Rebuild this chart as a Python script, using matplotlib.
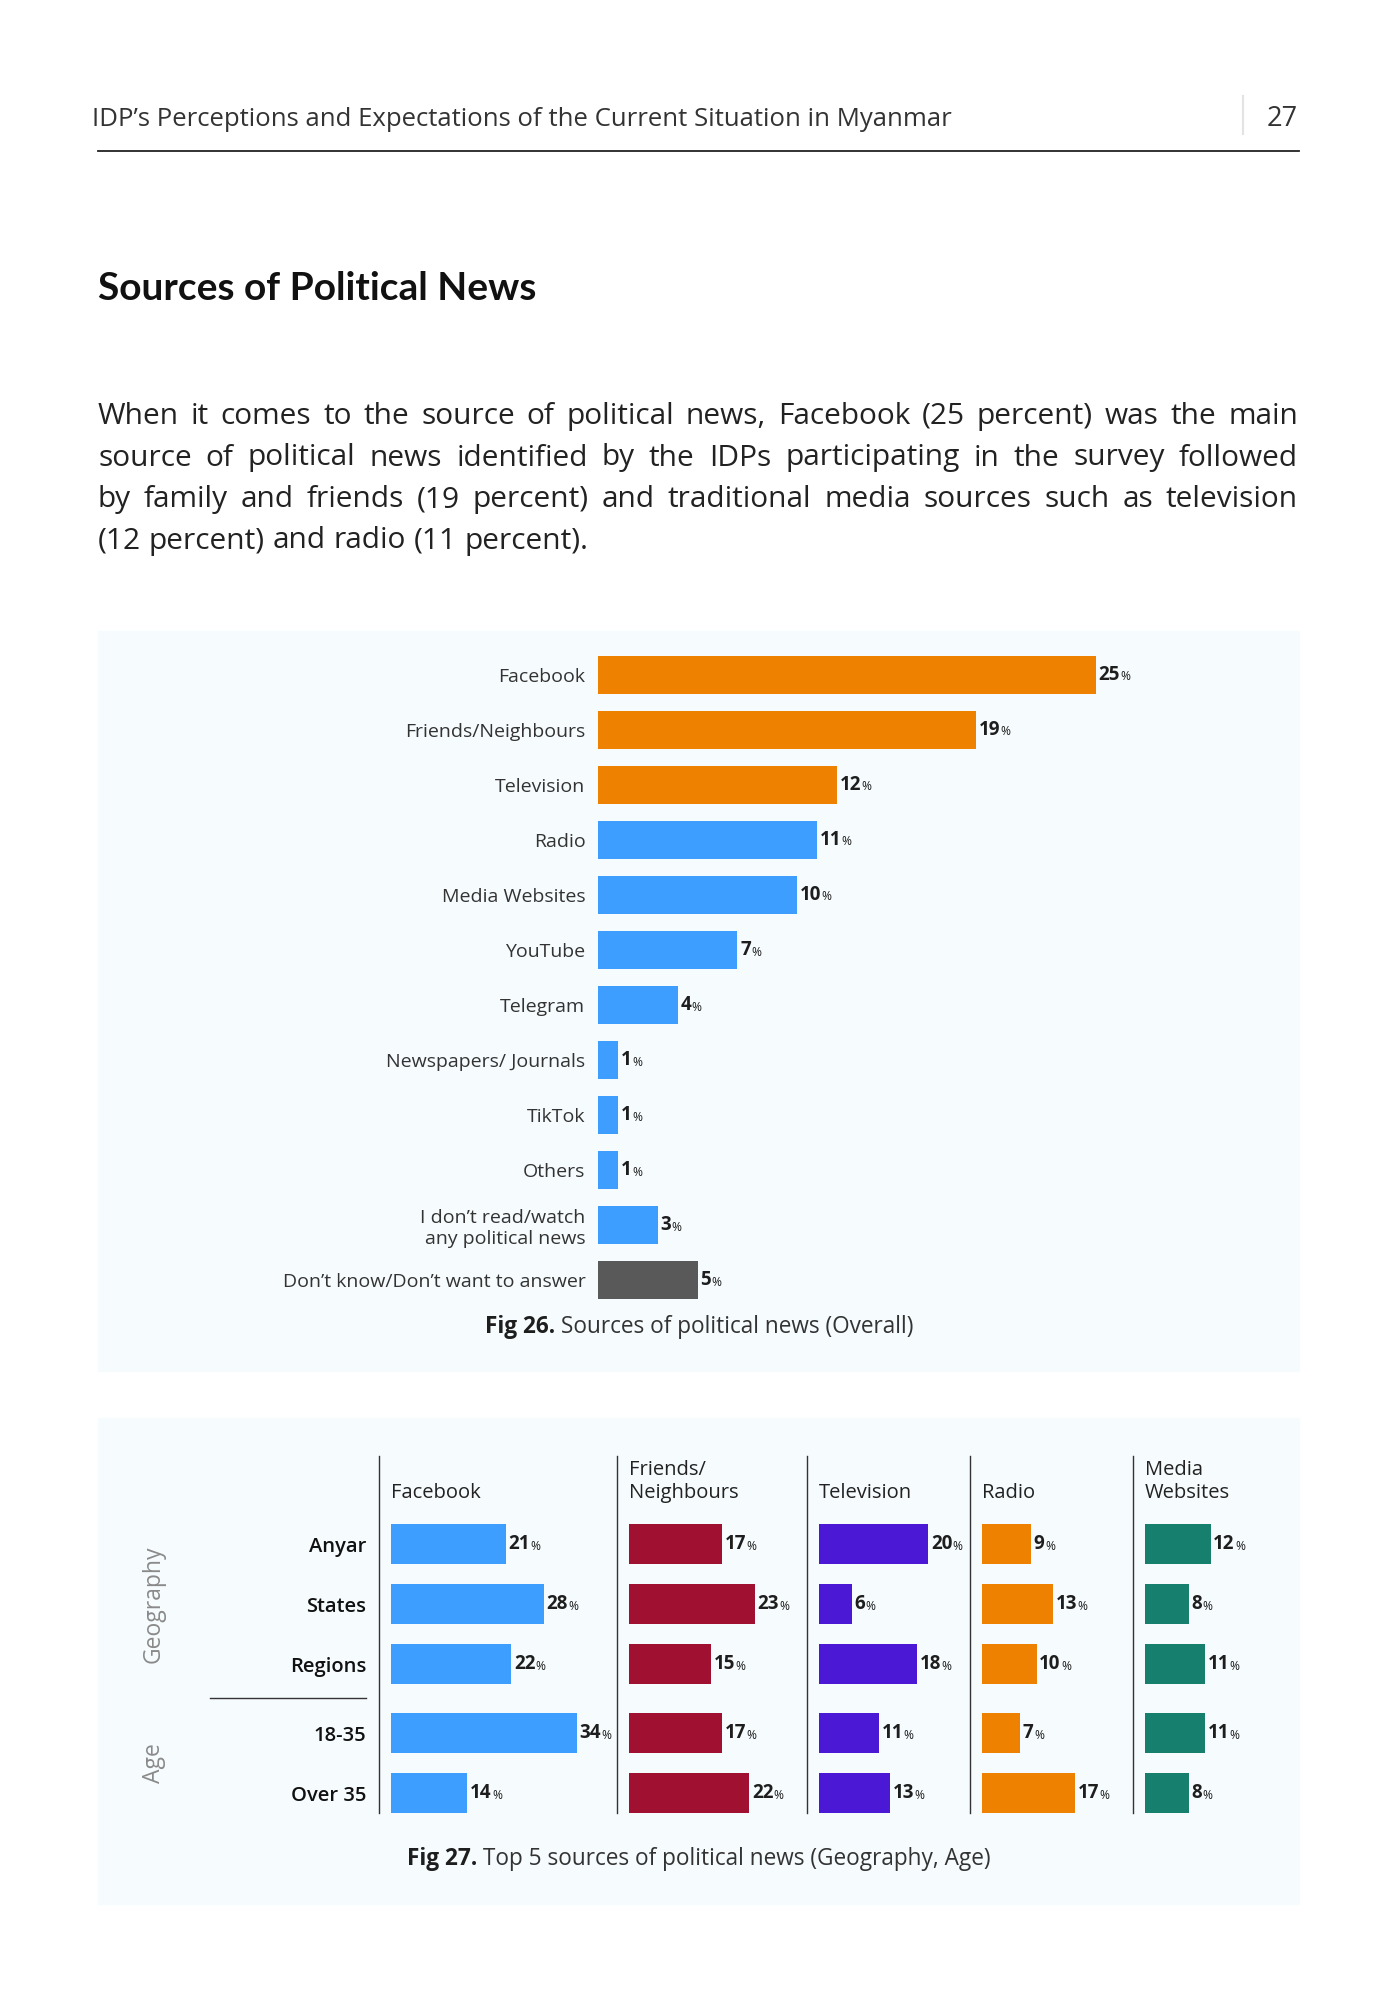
import matplotlib
matplotlib.use('Agg')
import matplotlib.pyplot as plt
from matplotlib.patches import Rectangle

plt.rcParams['font.family'] = ['Open Sans', 'DejaVu Sans']

# ---- data ----
sources = ['Facebook', 'Friends/Neighbours', 'Television', 'Radio', 'Media Websites',
           'YouTube', 'Telegram', 'Newspapers/ Journals', 'TikTok', 'Others',
           'I don\u2019t read/watch\nany political news',
           'Don\u2019t know/Don\u2019t want to answer']
overall = [25, 19, 12, 11, 10, 7, 4, 1, 1, 1, 3, 5]

groups = ['Anyar', 'States', 'Regions', '18-35', 'Over 35']
top5 = ['Facebook', 'Friends/\nNeighbours', 'Television', 'Radio', 'Media\nWebsites']
facebook = [21, 28, 22, 34, 14]
friends = [17, 23, 15, 17, 22]
television = [20, 6, 18, 11, 13]
radio = [9, 13, 10, 7, 17]
media = [12, 8, 11, 11, 8]

paragraph = [
    'When it comes to the source of political news, Facebook (25 percent) was the main',
    'source of political news identified by the IDPs participating in the survey followed',
    'by family and friends (19 percent) and traditional media sources such as television',
    '(12 percent) and radio (11 percent).',
]

# ---- styles ----
ORANGE = '#ee8100'
BLUE = '#3d9eff'
GREY = '#595959'
overall_colors = [ORANGE] * 3 + [BLUE] * 8 + [GREY]
top5_colors = [BLUE, '#a01030', '#4b19d5', ORANGE, '#167f6e']
PANEL = '#f6fbfd'
TXT = '#1e1e1e'

W, H = 1400, 2000
fig = plt.figure(figsize=(14, 20), dpi=100)
fig.patch.set_facecolor('white')


def px_axes(x0, y0, x1, y1, z=1):
    ax = fig.add_axes([x0 / W, 1 - y1 / H, (x1 - x0) / W, (y1 - y0) / H])
    ax.set_zorder(z)
    ax.patch.set_alpha(0)
    return ax


page = px_axes(0, 0, W, H, z=0)
page.set_xlim(0, W)
page.set_ylim(H, 0)
page.axis('off')
r = fig.canvas.get_renderer()


def width_of(t):
    return t.get_window_extent(r).width


def pct_label(ax, x, y, v, size=13.5):
    t = ax.text(x, y, str(v), ha='left', va='center', fontsize=size,
                fontweight='bold', color=TXT)
    ax.annotate('%', xy=(1, 0), xycoords=t, xytext=(0.2, 1.0), textcoords='offset points',
                ha='left', va='bottom', fontsize=size * 0.64, color=TXT)


def caption(xc, y, bold, rest, size=16.3):
    a = page.text(0, y, bold, fontsize=size, fontweight='bold', color=TXT, va='center')
    b = page.text(0, y, rest, fontsize=size, color='#333333', va='center')
    wa, wb = width_of(a), width_of(b)
    x0 = xc - (wa + wb) / 2
    a.set_x(x0)
    b.set_x(x0 + wa)


# ---- header ----
page.text(92, 120, 'IDP\u2019s Perceptions and Expectations of the Current Situation in Myanmar',
          fontsize=18.5, color='#333333', va='center', ha='left')
page.text(1298, 119, '27', fontsize=19.5, color='#333333', va='center', ha='right')
page.plot([1243, 1243], [96, 134], color='#e3e3e3', lw=1.5)
page.plot([98, 1299], [151, 151], color='#222222', lw=1.3)

# ---- title ----
page.text(98, 288, 'Sources of Political News', fontsize=28, fontweight='bold',
          family=['Lato', 'DejaVu Sans'], color='#111111', va='center', ha='left')

# ---- justified paragraph ----
x_left, x_right = 98, 1298
for i, line in enumerate(paragraph):
    y = 424 + i * 41.5
    words = line.split()
    arts = [page.text(0, y, w, fontsize=21.5, color='#222222', va='baseline')
            for w in words]
    ws = [width_of(a) for a in arts]
    if i < len(paragraph) - 1:
        gap = (x_right - x_left - sum(ws)) / (len(words) - 1)
    else:
        gap = 21.5 * 100 / 72 * 0.26
    x = x_left
    for a, w in zip(arts, ws):
        a.set_x(x)
        x += w + gap

# ---- panel backgrounds ----
page.add_patch(Rectangle((98, 631), 1201, 740, color=PANEL, zorder=0))
page.add_patch(Rectangle((98, 1418), 1201, 486, color=PANEL, zorder=0))

# ---- Fig 26 ----
ax1 = px_axes(598, 647, 598 + 30 * 19.9, 1308)
ypos = list(range(len(sources)))
ax1.barh(ypos, overall, height=0.69, color=overall_colors)
ax1.set_xlim(0, 30)
ax1.set_ylim(len(sources) - 0.5, -0.5)
ax1.set_yticks(ypos)
ax1.set_yticklabels(sources, fontsize=14, color='#333333', linespacing=1.2)
ax1.tick_params(axis='y', length=0, pad=9)
ax1.set_xticks([])
for s in ax1.spines.values():
    s.set_visible(False)
for yy, v in zip(ypos, overall):
    pct_label(ax1, v + 0.15, yy, v)

caption(699, 1327, 'Fig 26.', ' Sources of political news (Overall)')

# ---- Fig 27 ----
series = [facebook, friends, television, radio, media]
bar_starts = [391, 629, 819, 982, 1145]
line_x = [379, 617, 807, 970, 1133]
row_pos = [0, 1, 2, 3.15, 4.15]
scale = 5.46
for k, (vals, x0, lx, name, col) in enumerate(zip(series, bar_starts, line_x, top5, top5_colors)):
    ax = px_axes(x0, 1456, x0 + 40 * scale, 1813)
    ax.barh(row_pos, vals, height=0.68, color=col)
    ax.set_xlim(0, 40)
    ax.set_ylim(4.483, -1.467)
    ax.set_xticks([])
    ax.set_yticks([])
    for s in ax.spines.values():
        s.set_visible(False)
    for yy, v in zip(row_pos, vals):
        pct_label(ax, v + 0.5, yy, v)
    if k == 0:
        ax.set_yticks(row_pos)
        ax.set_yticklabels(groups, fontsize=14.5, color='#111111', fontweight='semibold')
        ax.tick_params(axis='y', length=0, pad=18)
    page.plot([lx, lx], [1456, 1813], color='#333333', lw=1)
    page.text(x0, 1503, name, fontsize=14.5, color='#222222', va='bottom', ha='left',
              linespacing=1.2)

page.plot([210, 366], [1698, 1698], color='#333333', lw=1)
page.text(154, 1604, 'Geography', rotation=90, fontsize=16.5, color='#8a8a8a',
          ha='center', va='center')
page.text(154, 1763, 'Age', rotation=90, fontsize=16.5, color='#8a8a8a',
          ha='center', va='center')

caption(699, 1859, 'Fig 27.', ' Top 5 sources of political news (Geography, Age)')

fig.savefig('out.png', dpi=100, facecolor='white')
